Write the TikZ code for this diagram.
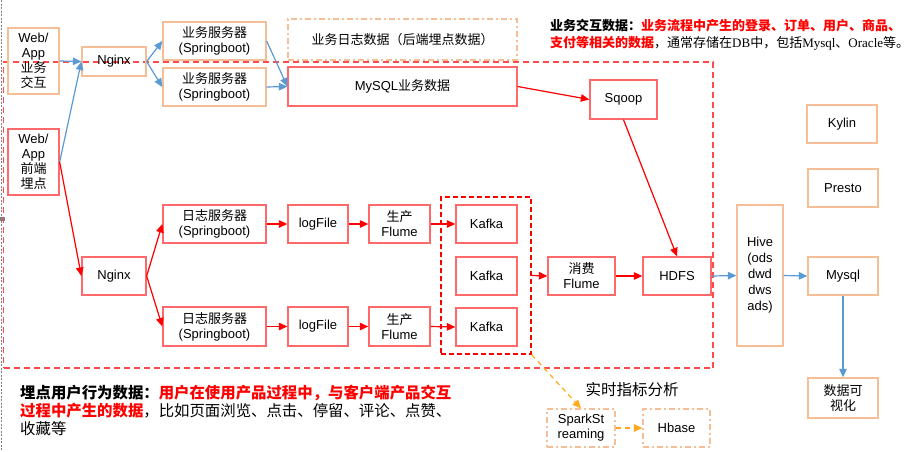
\documentclass[tikz,border=0pt]{standalone}
\usepackage{fontspec}
\setmainfont{Liberation Sans}
\newfontfamily\cjkfont{Noto Sans CJK SC}
\newfontfamily\serlat{Liberation Serif}
\newcommand{\zw}[1]{{\cjkfont #1}}
\usetikzlibrary{arrows.meta}
\definecolor{peach}{RGB}{245,190,150}
\definecolor{boxred}{RGB}{255,105,105}
\definecolor{blu}{RGB}{91,155,213}
\definecolor{orng}{RGB}{255,170,30}
\definecolor{regred}{RGB}{255,75,75}
\begin{document}
\begin{tikzpicture}[x=1pt,y=-1pt,
  every node/.style={font=\fontsize{13}{15}\selectfont, inner sep=0pt, align=center},
  pbox/.style={draw=peach, line width=1.3pt},
  rbox/.style={draw=boxred, line width=1.3pt},
  ddbox/.style={draw=peach, line width=1.3pt, dash pattern=on 6pt off 3pt on 2pt off 3pt},
  sz/.style 2 args={minimum width=#1, minimum height=#2},
  tip/.style={-{Triangle[length=8.5pt,width=7.5pt]}},
  barrow/.style={draw=blu, fill=blu, line width=1.2pt, tip},
  rarrow/.style={draw=red, fill=red, line width=1.2pt, tip},
  oarrow/.style={draw=orng, line width=1.2pt, dash pattern=on 5pt off 4pt, tip},
  txtline/.style={anchor=base west, align=left},
]
\fill[white] (0,0) rectangle (922,451);
\useasboundingbox (0,0) rectangle (922,451);
% left edge marks
\draw[gray, line width=1pt, dash pattern=on 2pt off 1.5pt] (1,0) -- (1,451);
\fill[gray] (0,217) rectangle (5,221);

% dashed regions
\node[draw=regred, line width=1.5pt, dash pattern=on 6pt off 4pt, sz={709.5}{306}] (region) at (358.25,215) {};
\node[draw=red, line width=1.3pt, dash pattern=on 5pt off 3pt, sz={90}{157}] (kbox) at (486,275.5) {};

% top row
\node[pbox, sz={51}{66}] (wa1) at (33.5,61) {Web/\\App\\\zw{业务}\\\zw{交互}};
\node[rbox, sz={51}{66}] (wa2) at (33.5,162) {Web/\\App\\\zw{前端}\\\zw{埋点}};
\node[pbox, sz={64}{29}] (ng1) at (114,61.5) {Nginx};
\node[pbox, sz={103}{38}] (ys1) at (214.5,41) {\zw{业务服务器}\\(Springboot)};
\node[pbox, sz={103}{38}] (ys2) at (214.5,87) {\zw{业务服务器}\\(Springboot)};
\node[ddbox, sz={229}{41}] (rz) at (402.5,39.5) {\zw{业务日志数据（后端埋点数据）}};
\node[rbox, sz={229}{39}] (mysqlb) at (402.5,86.5) {MySQL\zw{业务数据}};
\node[rbox, sz={67}{39}] (sqoop) at (623.5,99.5) {Sqoop};

% log path
\node[rbox, sz={64}{38}] (ng2) at (114,276) {Nginx};
\node[rbox, sz={103}{38}] (ls1) at (214.5,224) {\zw{日志服务器}\\(Springboot)};
\node[rbox, sz={103}{39}] (ls2) at (214.5,326.5) {\zw{日志服务器}\\(Springboot)};
\node[rbox, sz={60}{38}] (lf1) at (318,224) {logFile};
\node[rbox, sz={60}{39}] (lf2) at (318,326.5) {logFile};
\node[rbox, sz={61}{38}] (pf1) at (399.5,224) {\zw{生产}\\Flume};
\node[rbox, sz={61}{39}] (pf2) at (399.5,326.5) {\zw{生产}\\Flume};
\node[rbox, sz={61}{38}] (k1) at (486.5,224) {Kafka};
\node[rbox, sz={61}{38}] (k2) at (486.5,276) {Kafka};
\node[rbox, sz={61}{38}] (k3) at (486.5,327) {Kafka};
\node[rbox, sz={67}{38}] (xf) at (581.5,276) {\zw{消费}\\Flume};
\node[rbox, sz={68}{38}] (hdfs) at (677,276) {HDFS};

% right column
\node[pbox, sz={46}{141}, font=\fontsize{13}{16}\selectfont] (hive) at (760,275.5) {Hive\\(ods\\dwd\\dws\\ads)};
\node[pbox, sz={70}{38}] (mysql2) at (843,276) {Mysql};
\node[pbox, sz={70}{38}] (presto) at (843,188) {Presto};
\node[pbox, sz={70}{38}] (kylin) at (842,124) {Kylin};
\node[pbox, sz={70}{40}] (viz) at (843,398) {\zw{数据可}\\\zw{视化}};

% realtime
\node[font=\fontsize{15.5}{18}\selectfont] (rt) at (632,390) {\zw{实时指标分析}};
\node[ddbox, sz={68}{38}] (spark) at (581,428) {SparkSt\\reaming};
\node[ddbox, sz={67}{38}] (hbase) at (676.5,428) {Hbase};

% blue arrows
\draw[barrow] (wa1.east) -- (ng1.west);
\draw[barrow] (wa2.east) -- (ng1.west);
\draw[barrow] (ng1.east) -- (ys1.west);
\draw[barrow] (ng1.east) -- (ys2.west);
\draw[barrow] (ys1.east) -- (mysqlb.west);
\draw[barrow] (ys2.east) -- (mysqlb.west);
\draw[barrow] (hdfs.east) -- (hive.west);
\draw[barrow] (hive.east) -- (mysql2.west);
\draw[barrow] (mysql2.south) -- (viz.north);

% red arrows
\draw[rarrow] (wa2.east) -- (ng2.west);
\draw[rarrow] (ng2.east) -- (ls1.west);
\draw[rarrow] (ng2.east) -- (ls2.west);
\draw[rarrow] (ls1.east) -- (lf1.west);
\draw[rarrow] (lf1.east) -- (pf1.west);
\draw[rarrow] (pf1.east) -- (k1.west);
\draw[rarrow] (ls2.east) -- (lf2.west);
\draw[rarrow] (lf2.east) -- (pf2.west);
\draw[rarrow] (pf2.east) -- (k3.west);
\draw[rarrow] (kbox.east) -- (xf.west);
\draw[rarrow] (xf.east) -- (hdfs.west);
\draw[rarrow] (mysqlb.east) -- (sqoop.west);
\draw[rarrow] (sqoop.south) -- (hdfs.north);

% orange arrows
\draw[oarrow] (kbox.south east) -- (spark.north);
\draw[oarrow] (spark.east) -- (hbase.west);

% texts
\node[txtline, font=\fontsize{13}{17}\selectfont] (t1) at (550,30) {\bfseries\zw{业务交互数据：}\textcolor{red}{\zw{业务流程中产生的登录、订单、用户、商品、}}};
\node[txtline, font=\fontsize{13}{17}\selectfont] (t2) at (550,47) {{\bfseries\color{red}\zw{支付等相关的数据}}\zw{，通常存储在}{\serlat DB}\zw{中，包括}{\serlat Mysql}\zw{、}{\serlat Oracle}\zw{等。}};
\node[txtline, font=\fontsize{15.4}{18}\selectfont] (b1) at (20,398) {\bfseries\zw{埋点用户行为数据：}{\color{red}\zw{用户在使用产品过程中，与客户端产品交互}}};
\node[txtline, font=\fontsize{15.4}{18}\selectfont] (b2) at (20,416) {{\bfseries\color{red}\zw{过程中产生的数据}}\zw{，比如页面浏览、点击、停留、评论、点赞、}};
\node[txtline, font=\fontsize{15.4}{18}\selectfont] (b3) at (20,434) {\zw{收藏等}};
\end{tikzpicture}
\end{document}
